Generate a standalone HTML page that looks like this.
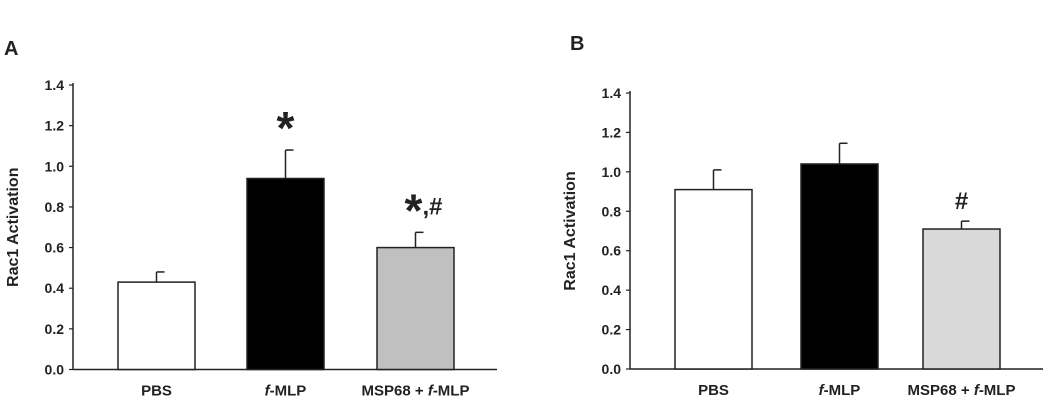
<!DOCTYPE html>
<html><head><meta charset="utf-8"><style>
body{margin:0;background:#fff;}
svg text{font-family:"Liberation Sans",sans-serif;fill:#222;}
</style></head><body>
<svg id="s" width="1050" height="401" xmlns="http://www.w3.org/2000/svg">
<text x="4" y="55" font-size="20" font-weight="bold">A</text>
<text x="570" y="50" font-size="20" font-weight="bold">B</text>
</svg>
<script>
const categories=["PBS","f-MLP","MSP68 + f-MLP"];
const valuesA=[0.43,0.94,0.60];
const errorsA=[0.05,0.14,0.075];
const valuesB=[0.91,1.04,0.71];
const errorsB=[0.10,0.105,0.04];
const yTicks=[0,0.2,0.4,0.6,0.8,1.0,1.2,1.4];
const marksA=["","*","*,#"];
const marksB=["","","#"];
const svg=document.getElementById('s');
const NS="http://www.w3.org/2000/svg";
function mk(t,a,p){const e=document.createElementNS(NS,t);for(const k in a)e.setAttribute(k,a[k]);(p||svg).appendChild(e);return e;}
function panel(id,ax,y0,y14,axEnd,barX,barW,vals,errs,marks,fills){
  const g=mk('g',{});
  
  
  const y=v=>y0-(v/1.4)*(y0-y14);
  const ya=mk('line',{x1:ax,y1:y(1.4)-2,x2:ax,y2:y0,stroke:'#222','stroke-width':1.5},g);
  
  const xa=mk('line',{x1:ax,y1:y0,x2:axEnd,y2:y0,stroke:'#222','stroke-width':1.5},g);
  
  yTicks.forEach(t=>{
    mk('line',{x1:ax-4,y1:y(t),x2:ax,y2:y(t),stroke:'#222','stroke-width':1.2},g);
    const tx=mk('text',{x:ax-9,y:y(t)+5,'font-size':14,'font-weight':'bold','text-anchor':'end'},g);
    tx.textContent=t.toFixed(1);
    
  });
  const yl=mk('text',{x:0,y:0,'font-size':16,'font-weight':'bold','text-anchor':'middle',transform:`translate(${ax-55},${(y0+y(1.4))/2}) rotate(-90)`},g);
  yl.textContent='Rac1 Activation';
  
  vals.forEach((v,i)=>{
    const x=barX[i], cx=x+barW/2, e=v+errs[i];
    const el=mk('line',{x1:cx,y1:y(v),x2:cx,y2:y(e),stroke:'#222','stroke-width':1.5},g);
    
    mk('line',{x1:cx,y1:y(e),x2:cx+8,y2:y(e),stroke:'#222','stroke-width':1.5},g);
    const r=mk('rect',{x:x,y:y(v),width:barW,height:y0-y(v),fill:fills[i],stroke:'#222','stroke-width':1.5},g);
    
    
    const lb=mk('text',{x:cx,y:y0+26,'font-size':15,'font-weight':'bold','text-anchor':'middle'},g);
    lb.innerHTML=categories[i].replace(/f-/g,'<tspan font-style="italic">f</tspan>-');
    
    if(marks[i]){
      const m=mk('text',{x:cx+(marks[i].length>1?8:0),y:y(e)-12,'font-size':marks[i]==='#'?24:46,'font-weight':'bold','text-anchor':'middle'},g);
      if(marks[i]==='*,#'){m.setAttribute('y',y(e)-6);m.innerHTML='*<tspan font-size="24" dy="-12">,#</tspan>';}
      else if(marks[i]==='*'){m.setAttribute('y',y(e)-6);m.textContent='*';}
      else m.textContent=marks[i];
      
    }
  });
}
panel('chart-a',73,369.5,85,497,[118,247,377],77,valuesA,errorsA,marksA,['#fff','#000','#c0c0c0']);
panel('chart-b',630,369,93,1043,[675,801,923],77,valuesB,errorsB,marksB,['#fff','#000','#d9d9d9']);
</script>
</body></html>
